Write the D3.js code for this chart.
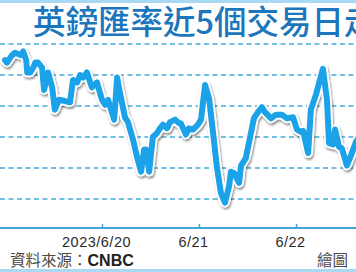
<!DOCTYPE html>
<html>
<head>
<meta charset="utf-8">
<script src="https://cdn.jsdelivr.net/npm/d3@7/dist/d3.min.js"></script>
<style>
  html, body { margin: 0; padding: 0; background: #fff; }
  svg { display: block; }
</style>
</head>
<body>
<svg id="chart" width="356" height="272"></svg>
<script>
// ---- data (GBP/USD) ----
const times = [
  "2023-06-19T00:00","2023-06-19T00:30","2023-06-19T01:45","2023-06-19T02:30","2023-06-19T03:15",
  "2023-06-19T04:00","2023-06-19T04:30","2023-06-19T05:15","2023-06-19T05:30","2023-06-19T06:15",
  "2023-06-19T07:00","2023-06-19T07:30","2023-06-19T08:10","2023-06-19T09:10","2023-06-19T09:40",
  "2023-06-19T10:40","2023-06-19T11:40","2023-06-19T12:20","2023-06-19T13:20","2023-06-19T14:50",
  "2023-06-19T16:05","2023-06-19T16:50","2023-06-19T17:50","2023-06-19T18:35","2023-06-19T19:20",
  "2023-06-19T20:15","2023-06-19T21:30","2023-06-19T22:45","2023-06-20T00:00","2023-06-20T00:45",
  "2023-06-20T01:30","2023-06-20T02:15","2023-06-20T03:00","2023-06-20T03:45","2023-06-20T04:10",
  "2023-06-20T05:40","2023-06-20T06:25","2023-06-20T07:40","2023-06-20T08:40","2023-06-20T09:40",
  "2023-06-20T10:25","2023-06-20T10:55","2023-06-20T11:40","2023-06-20T12:35","2023-06-20T13:35",
  "2023-06-20T14:20","2023-06-20T15:05","2023-06-20T16:05","2023-06-20T16:50","2023-06-20T18:05",
  "2023-06-20T19:05","2023-06-20T19:30","2023-06-20T20:45","2023-06-20T21:30","2023-06-20T22:30",
  "2023-06-20T23:45","2023-06-21T00:30","2023-06-21T01:30","2023-06-21T02:30","2023-06-21T03:30",
  "2023-06-21T04:25","2023-06-21T05:25","2023-06-21T06:25","2023-06-21T07:25","2023-06-21T07:55",
  "2023-06-21T08:40","2023-06-21T09:55","2023-06-21T10:25","2023-06-21T11:35","2023-06-21T12:35",
  "2023-06-21T13:35","2023-06-21T14:35","2023-06-21T15:35","2023-06-21T16:20","2023-06-21T17:50",
  "2023-06-21T19:05","2023-06-21T20:30","2023-06-21T21:45","2023-06-21T23:15","2023-06-22T00:15",
  "2023-06-22T01:15","2023-06-22T01:45","2023-06-22T03:00","2023-06-22T03:40","2023-06-22T04:55",
  "2023-06-22T06:40","2023-06-22T07:40","2023-06-22T08:10","2023-06-22T09:10","2023-06-22T09:40",
  "2023-06-22T10:40","2023-06-22T11:20","2023-06-22T12:35","2023-06-22T13:35","2023-06-22T14:50",
  "2023-06-22T16:20"
];
const rates = [
  1.2837,1.2835,1.2841,1.2843,1.2842,
  1.2841,1.2844,1.2837,1.2827,1.2827,
  1.2831,1.2835,1.2835,1.2831,1.2813,
  1.2827,1.2815,1.2797,1.2805,1.2804,
  1.2803,1.2821,1.2819,1.2825,1.2823,
  1.2827,1.2815,1.2819,1.2805,1.2801,
  1.2805,1.2797,1.2789,1.2823,1.2815,
  1.2791,1.2787,1.2773,1.2759,1.2747,
  1.2765,1.2765,1.2747,1.2775,1.2778,
  1.2782,1.2785,1.2782,1.2787,1.2789,
  1.2786,1.2786,1.2777,1.2782,1.2781,
  1.2785,1.2789,1.2817,1.2806,1.2778,
  1.2751,1.2730,1.2722,1.2735,1.2747,
  1.2746,1.2738,1.2752,1.2758,1.2774,
  1.2790,1.2795,1.2799,1.2795,1.2790,
  1.2793,1.2793,1.2790,1.2791,1.2781,
  1.2779,1.2780,1.2762,1.2797,1.2809,
  1.2830,1.2805,1.2770,1.2769,1.2781,
  1.2767,1.2766,1.2752,1.2760,1.2771,
  1.2779
];
const gridValues = [1.2850, 1.2825, 1.2800, 1.2775, 1.2750, 1.2725];
const tickDates = ["2023-06-20", "2023-06-21", "2023-06-22"];
const tickLabels = ["2023/6/20", "6/21", "6/22"];
const titleText = "英鎊匯率近5個交易日走勢";
const sourceLabel = "資料來源：";
const sourceName = "CNBC";
const creditText = "繪圖";

// ---- drawing ----
const W = 356, H = 272;
const svg = d3.select("#chart");
const parseT = d3.utcParse("%Y-%m-%dT%H:%M");
const parseD = d3.utcParse("%Y-%m-%d");
const data = times.map((t, i) => ({ t: parseT(t), v: rates[i] }));

const x = d3.scaleUtc()
  .domain([parseD("2023-06-19"), parseD("2023-06-22")])
  .range([5, 296]);
const y = d3.scaleLinear()
  .domain([1.2725, 1.2850])
  .range([199, 44]);

const defs = svg.append("defs");
const f = defs.append("filter").attr("id", "shadow")
  .attr("x", "-10%").attr("y", "-10%").attr("width", "120%").attr("height", "130%");
f.append("feGaussianBlur").attr("in", "SourceAlpha").attr("stdDeviation", 1.3).attr("result", "b");
f.append("feOffset").attr("in", "b").attr("dx", 1.2).attr("dy", 2).attr("result", "o");
f.append("feComponentTransfer").attr("in", "o").attr("result", "s")
  .append("feFuncA").attr("type", "linear").attr("slope", 0.45);
const fm = f.append("feMerge");
fm.append("feMergeNode").attr("in", "s");
fm.append("feMergeNode").attr("in", "SourceGraphic");

defs.append("clipPath").attr("id", "clip")
  .append("rect").attr("x", 0).attr("y", 38).attr("width", W).attr("height", 190);

// top & bottom bars
svg.append("rect").attr("x", 0).attr("y", 0).attr("width", W).attr("height", 3).attr("fill", "#a9d9f2");
svg.append("rect").attr("x", 0).attr("y", 269).attr("width", W).attr("height", 3).attr("fill", "#a9d9f2");

// title
svg.append("text")
  .attr("x", 33).attr("y", 34)
  .attr("font-family", "'Noto Sans CJK TC', 'Noto Sans CJK SC', sans-serif")
  .attr("font-size", 32.5)
  .attr("font-weight", 500)
  .attr("fill", "#1c76be")
  .text(titleText);

// gridlines
svg.append("g").selectAll("line").data(gridValues).join("line")
  .attr("x1", 0).attr("x2", W)
  .attr("y1", d => y(d)).attr("y2", d => y(d))
  .attr("stroke", "#45a9da")
  .attr("stroke-width", 1.3)
  .attr("stroke-dasharray", "5,3.5");

// x axis
const xAxis = d3.axisBottom(x)
  .tickValues(tickDates.map(parseD))
  .tickFormat((d, i) => tickLabels[i])
  .tickSizeInner(-4)
  .tickSizeOuter(0)
  .tickPadding(8);
const ag = svg.append("g").attr("transform", "translate(0,228)").call(xAxis);
ag.select(".domain").remove();
ag.insert("line", ":first-child").attr("x1", 0).attr("x2", W).attr("y1", 0).attr("y2", 0)
  .attr("stroke", "#3fa6d8").attr("stroke-width", 2);
ag.selectAll(".tick line").attr("stroke", "#3fa6d8").attr("stroke-width", 1.5);
ag.selectAll(".tick text")
  .attr("dx", -6)
  .attr("y", 9)
  .attr("dy", "0.71em")
  .attr("fill", "#2b2b2b")
  .attr("font-family", "'Liberation Sans', Arial, sans-serif")
  .attr("font-size", 14.5)
  .attr("letter-spacing", 0.5);

// line
const line = d3.line().x(d => x(d.t)).y(d => y(d.v)).curve(d3.curveLinear);
const lg = svg.append("g").attr("clip-path", "url(#clip)");
const inner = lg.append("g").attr("filter", "url(#shadow)");
inner.append("path").datum(data)
  .attr("d", line)
  .attr("fill", "none")
  .attr("stroke", "#ffffff")
  .attr("stroke-width", 9.5)
  .attr("stroke-linejoin", "round")
  .attr("stroke-linecap", "round");
inner.append("path").datum(data)
  .attr("d", line)
  .attr("fill", "none")
  .attr("stroke", "#1ba2e8")
  .attr("stroke-width", 6)
  .attr("stroke-linejoin", "round")
  .attr("stroke-linecap", "round");

// source
const src = svg.append("text")
  .attr("x", 10).attr("y", 266)
  .attr("font-family", "'Noto Sans CJK TC', 'Noto Sans CJK SC', sans-serif")
  .attr("font-size", 15.5)
  .attr("fill", "#4a4a4a");
src.append("tspan").text(sourceLabel);
src.append("tspan")
  .attr("font-family", "'Liberation Sans', Arial, sans-serif")
  .attr("font-weight", "bold")
  .attr("font-size", 16)
  .attr("fill", "#222")
  .text(sourceName);

svg.append("text")
  .attr("x", 348).attr("y", 266)
  .attr("text-anchor", "end")
  .attr("font-family", "'Noto Sans CJK TC', 'Noto Sans CJK SC', sans-serif")
  .attr("font-size", 15.5)
  .attr("fill", "#4a4a4a")
  .text(creditText);
</script>
</body>
</html>
